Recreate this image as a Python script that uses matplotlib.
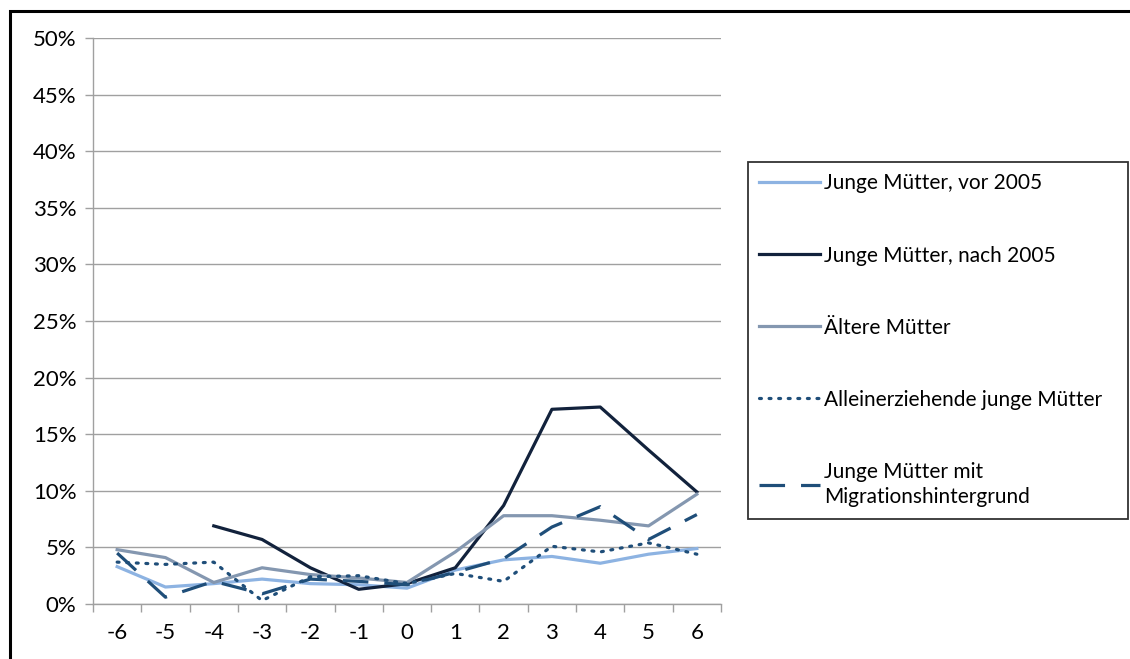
#!/usr/bin/env python3

import numpy as np
import matplotlib
matplotlib.use("Agg")
import matplotlib.pyplot as plt
from matplotlib.patches import Rectangle
from matplotlib.ticker import FixedLocator, PercentFormatter


FIGURE_WIDTH_PX = 1130
FIGURE_HEIGHT_PX = 659
FIGURE_DPI = 100

periods = [-6, -5, -4, -3, -2, -1, 0, 1, 2, 3, 4, 5, 6]

junge_vor_2005 = [3.3, 1.5, 1.8, 2.2, 1.8, 1.7, 1.4, 3.0, 3.9, 4.2, 3.6, 4.4, 4.9]
junge_nach_2005 = [np.nan, np.nan, 6.9, 5.7, 3.2, 1.3, 1.8, 3.2, 8.7, 17.2, 17.4, 13.6, 9.9]
aeltere = [4.8, 4.1, 1.9, 3.2, 2.6, 2.3, 1.9, 4.6, 7.8, 7.8, 7.4, 6.9, 9.7]
alleinerziehende = [3.7, 3.5, 3.7, 0.3, 2.4, 2.5, 1.8, 2.7, 2.0, 5.1, 4.6, 5.4, 4.4]
migration = [4.5, 0.6, 2.0, 0.9, 2.2, 2.0, 1.7, 2.8, 4.0, 6.8, 8.6, 5.7, 7.9]

labels = [
    "Junge Mütter, vor 2005",
    "Junge Mütter, nach 2005",
    "Ältere Mütter",
    "Alleinerziehende junge Mütter",
    "Junge Mütter mit\nMigrationshintergrund",
]

plt.rcParams["font.family"] = ["Lato", "DejaVu Sans"]
plt.rcParams["axes.unicode_minus"] = False

fig = plt.figure(
    figsize=(FIGURE_WIDTH_PX / FIGURE_DPI, FIGURE_HEIGHT_PX / FIGURE_DPI),
    dpi=FIGURE_DPI,
)
ax = fig.add_axes([93 / 1130, 55 / 659, 628 / 1130, 566 / 659])

lw = 2.3
ax.plot(periods, junge_vor_2005, color="#8db3e2", lw=lw, label=labels[0])
ax.plot(periods, junge_nach_2005, color="#12223c", lw=lw, label=labels[1])
ax.plot(periods, aeltere, color="#8497b0", lw=lw, label=labels[2])
ax.plot(periods, alleinerziehende, color="#1f4e79", lw=lw, label=labels[3],
        linestyle=(0, (0.6, 2.4)), dash_capstyle="round")
ax.plot(periods, migration, color="#1f4e79", lw=lw, label=labels[4],
        linestyle=(0, (8, 5)))

ax.set_xlim(-6.5, 6.5)
ax.set_ylim(0, 50)
ax.set_xticks(periods)
ax.xaxis.set_minor_locator(FixedLocator(np.arange(-6.5, 7.0, 1.0)))
ax.tick_params(axis="x", which="major", length=0, pad=14, labelsize=16)
ax.tick_params(axis="x", which="minor", length=6, color="#a0a0a0", width=1)
ax.set_yticks(np.arange(0, 51, 5))
ax.yaxis.set_major_formatter(PercentFormatter(decimals=0))
ax.tick_params(axis="y", length=6, color="#a0a0a0", width=1, labelsize=16, pad=6)

ax.grid(axis="y", color="#a0a0a0", lw=1)
ax.set_axisbelow(True)
for side in ("top", "right"):
    ax.spines[side].set_visible(False)
for side in ("left", "bottom"):
    ax.spines[side].set_color("#a0a0a0")
    ax.spines[side].set_linewidth(1)

legend = fig.legend(
    loc="upper left",
    bbox_to_anchor=(748 / 1130, 1 - 162 / 659, 380 / 1130, 0.0),
    mode="expand",
    borderaxespad=0,
    fontsize=15,
    handlelength=2.9,
    handletextpad=0.2,
    labelspacing=2.5,
    borderpad=0.55,
    fancybox=False,
    frameon=True,
)
legend.get_frame().set_edgecolor("black")
legend.get_frame().set_linewidth(1.3)
for text in legend.get_texts():
    text.set_linespacing(1.35)

# outer chart border (only top and left visible)
fig.patches.append(Rectangle(
    (10 / 1130, -0.1), 1.2, 0.1 + (659 - 11) / 659,
    transform=fig.transFigure, fill=False, edgecolor="black", lw=2.2,
))

fig.savefig("out.png", dpi=FIGURE_DPI)
